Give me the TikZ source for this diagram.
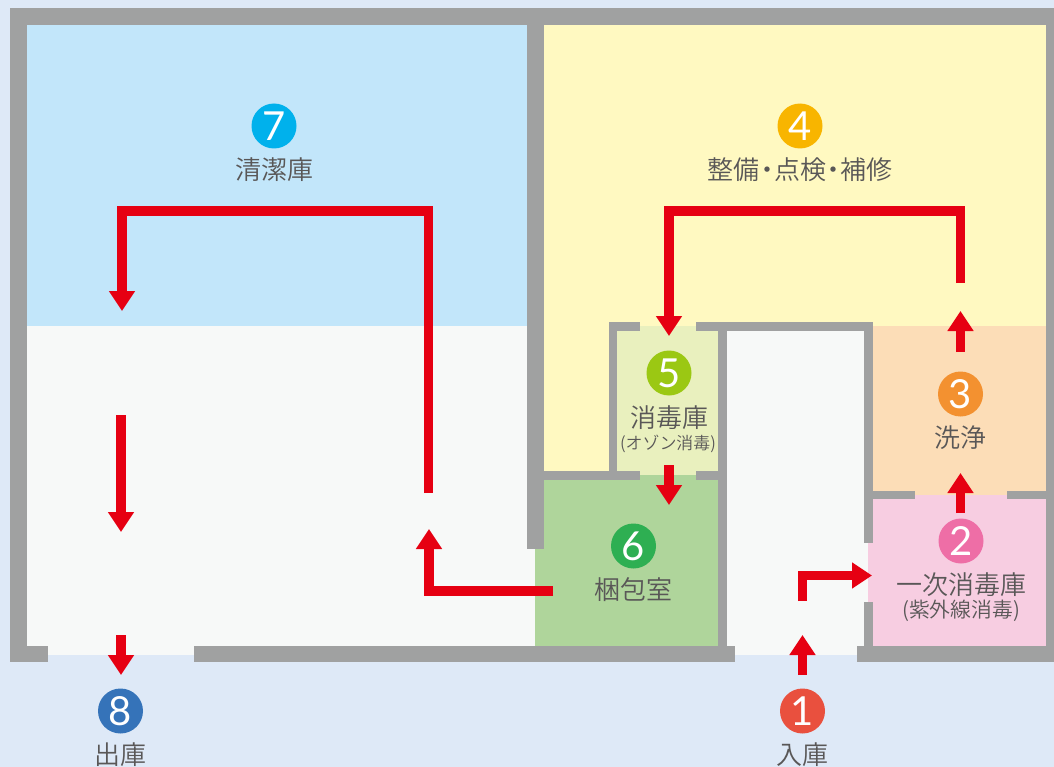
\documentclass[tikz,border=0pt]{standalone}
\usepackage{fontspec}
\usetikzlibrary{arrows.meta}
\setmainfont{Noto Sans CJK JP DemiLight}
\newfontfamily\digitfont{Lato}
\definecolor{bgc}{HTML}{DEE9F7}
\definecolor{wallc}{HTML}{A0A1A1}
\definecolor{skyc}{HTML}{C2E6FA}
\definecolor{offc}{HTML}{F7F9F8}
\definecolor{yelc}{HTML}{FFF9C1}
\definecolor{lime}{HTML}{E9F0BE}
\definecolor{grnc}{HTML}{AFD59B}
\definecolor{peach}{HTML}{FCDDB7}
\definecolor{pinkc}{HTML}{F7CDE1}
\definecolor{redc}{HTML}{E60012}
\definecolor{txtc}{HTML}{595757}
\tikzset{
  x=0.75pt,y=-0.75pt,
  flow/.style={draw=redc,line width=6.8pt,line join=miter,-{Triangle[width=18.75pt,length=15pt]}},
  badge/.style={circle,minimum size=33.75pt,inner sep=0pt,text=white,font={\digitfont\fontsize{30pt}{30pt}\selectfont}},
  lab/.style={text=txtc,inner sep=0pt,font=\fontsize{19.5pt}{22pt}\selectfont},
  sublab/.style={text=txtc,inner sep=0pt,font=\fontsize{15.6pt}{17pt}\selectfont},
  wall/.style={fill=wallc,draw=none}
}
\newcommand{\zone}[5]{\fill[#1] (#2,#3) rectangle (#4,#5);}
\newcommand{\wallbox}[4]{\fill[wall] (#1,#2) rectangle (#3,#4);}
\begin{document}
\begin{tikzpicture}
\useasboundingbox (0,0) rectangle (1054,767);
\fill[bgc] (0,0) rectangle (1054,767);
% zones
\zone{skyc}{27}{25}{527}{326}
\zone{offc}{27}{326}{535}{655}
\zone{yelc}{544}{25}{1046}{326}
\zone{yelc}{544}{326}{617}{475}
\zone{lime}{617}{326}{718}{475}
\zone{grnc}{544}{475}{718}{646}
\zone{grnc}{535}{549}{544}{646}
\zone{offc}{727}{330}{868}{655}
\zone{peach}{873}{326}{1046}{495}
\zone{pinkc}{873}{495}{1046}{646}
\zone{pinkc}{868}{543}{873}{602}
% walls
\wallbox{9.5}{8.5}{1054}{25.5}
\wallbox{9.5}{8.5}{27}{662}
\wallbox{9.5}{646}{48}{662}
\wallbox{194}{646}{735}{662}
\wallbox{857}{646}{1054}{662}
\wallbox{1046}{8.5}{1054}{662}
\wallbox{527}{25}{544}{549}
\wallbox{609}{322}{617}{480}
\wallbox{609}{322}{640}{331}
\wallbox{696}{322}{873}{331}
\wallbox{718}{322}{727}{646}
\wallbox{864}{322}{873}{543}
\wallbox{864}{602}{873}{646}
\wallbox{544}{471}{640}{480}
\wallbox{696}{471}{718}{480}
\wallbox{864}{491}{915}{499}
\wallbox{1007}{491}{1046}{499}
% flows
\draw[flow] (802.5,675) -- (802.5,635);
\draw[flow] (802.5,601) -- (802.5,575.5) -- (872,575.5);
\draw[flow] (960.5,513) -- (960.5,473);
\draw[flow] (960.5,352) -- (960.5,311);
\draw[flow] (960.5,283) -- (960.5,211) -- (669,211) -- (669,336);
\draw[flow] (669,465) -- (669,505);
\draw[flow] (553,591) -- (429,591) -- (429,529);
\draw[flow] (428.5,493) -- (428.5,211) -- (122,211) -- (122,311);
\draw[flow] (121,415) -- (121,532);
\draw[flow] (121,635) -- (121,675);
% badges
\node[badge,fill={rgb,255:red,233;green,80;blue,62}] (n1) at (802.5,711) {1};
\node[badge,fill={rgb,255:red,238;green,110;blue,166}] (n2) at (961,541) {2};
\node[badge,fill={rgb,255:red,243;green,145;blue,48}] (n3) at (960.5,394) {3};
\node[badge,fill={rgb,255:red,248;green,181;blue,0}] (n4) at (800,126) {4};
\node[badge,fill={rgb,255:red,155;green,200;blue,19}] (n5) at (669,373) {5};
\node[badge,fill={rgb,255:red,46;green,175;blue,82}] (n6) at (633.5,546) {6};
\node[badge,fill={rgb,255:red,0;green,177;blue,236}] (n7) at (274,126) {7};
\node[badge,fill={rgb,255:red,53;green,115;blue,185}] (n8) at (120.5,711) {8};
% labels
\node[lab] (t1) at (802,755) {入庫};
\node[lab] (t2) at (961,585) {一次消毒庫};
\node[sublab] (s2) at (961,611) {(紫外線消毒)};
\node[lab] (t3) at (960.5,438) {洗浄};
\node[lab] (t4) at (800,170) {整備\kern-.23em・\kern-.23em点検\kern-.23em・\kern-.23em補修};
\node[lab] (t5) at (669,418) {消毒庫};
\node[sublab,font=\fontsize{12.7pt}{14pt}\selectfont] (s5) at (668,444) {(オゾン消毒)};
\node[lab] (t6) at (633.5,590) {梱包室};
\node[lab] (t7) at (274,170) {清潔庫};
\node[lab] (t8) at (120.5,755) {出庫};
\end{tikzpicture}
\end{document}
